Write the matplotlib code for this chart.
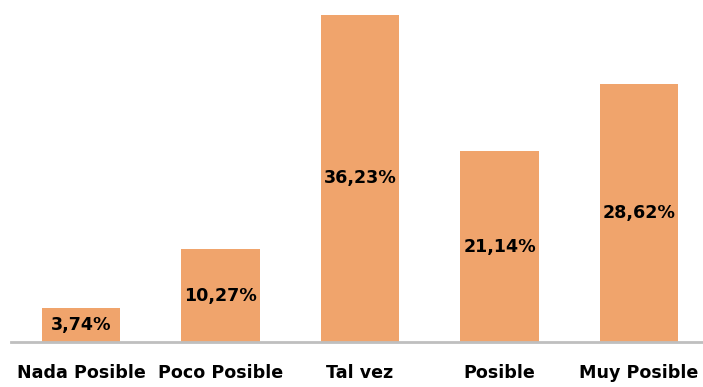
import matplotlib.pyplot as plt

categories = ['Nada Posible', 'Poco Posible', 'Tal vez', 'Posible', 'Muy Posible']
values = [3.74, 10.27, 36.23, 21.14, 28.62]
labels = ['3,74%', '10,27%', '36,23%', '21,14%', '28,62%']

plt.rcParams['font.family'] = ['DejaVu Sans']

fig = plt.figure(figsize=(7.03, 3.87), dpi=100)
W, H = 703, 387
ax = fig.add_axes([11.25 / W, 45 / H, 697.5 / W, 40 * 9.03 / H])

x = range(len(categories))
bars = ax.bar(x, values, width=0.56, color='#F0A46C', zorder=2)

for b, lab in zip(bars, labels):
    ax.text(b.get_x() + b.get_width() / 2, b.get_height() / 2, lab,
            ha='center', va='center', fontsize=12.6, fontweight='bold', color='black')

ax.set_xlim(-0.5, 4.5)
ax.set_ylim(0, 40)
ax.set_xticks(list(x))
ax.set_xticklabels(categories, fontsize=12.6, fontweight='bold')
ax.tick_params(axis='x', length=0, pad=16)
ax.set_yticks([])
for s in ['top', 'right', 'left']:
    ax.spines[s].set_visible(False)
ax.spines['bottom'].set_color('#BFBFBF')
ax.spines['bottom'].set_linewidth(2)

fig.savefig('out.png', dpi=100)
